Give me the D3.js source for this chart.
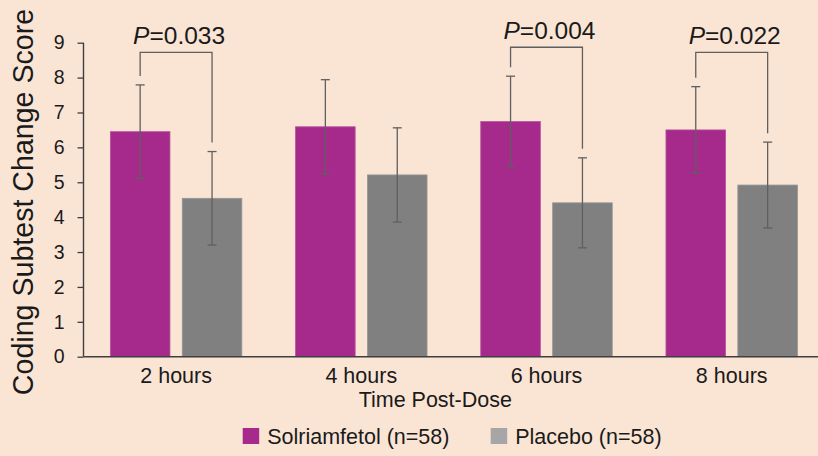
<!DOCTYPE html>
<html>
<head>
<meta charset="utf-8">
<script src="https://cdn.jsdelivr.net/npm/d3@7"></script>
<style>
  html, body { margin: 0; padding: 0; background: #FAE5D5; }
  svg { display: block; font-family: "Liberation Sans", Arial, sans-serif; }
</style>
</head>
<body>
<svg id="chart" width="818" height="456"></svg>
<script>
// Coding subtest change score by time after dose
const categories = ["2 hours", "4 hours", "6 hours", "8 hours"];
const seriesNames = ["Solriamfetol (n=58)", "Placebo (n=58)"];
const solriamfetol = [6.45, 6.59, 6.74, 6.50];
const solriamfetolErr = [1.34, 1.35, 1.30, 1.24];
const placebo = [4.54, 5.21, 4.41, 4.92];
const placeboErr = [1.34, 1.35, 1.29, 1.23];
const yTicks = [0, 1, 2, 3, 4, 5, 6, 7, 8, 9];

// Significance brackets: category index, p-value label, bracket height (score units)
const bracketCats = [0, 2, 3];
const bracketLabels = ["0.033", "0.004", "0.022"];
const bracketTops = [8.72, 8.87, 8.72];

const colors = ["#A62A8C", "#808080"];
const legendColors = ["#A62A8C", "#A6A6A6"];

(function draw() {
  const svg = d3.select("#chart");
  const W = 818;
  const plotLeft = 83.5, plotRight = 824.3, plotTop = 42.7, plotBottom = 356.7;

  const x = d3.scaleBand().domain(categories).range([plotLeft, plotRight])
    .paddingInner(0.29).paddingOuter(0.145);
  const xs = d3.scaleBand().domain(seriesNames).range([0, x.bandwidth()])
    .paddingInner(0.171).paddingOuter(0);
  const y = d3.scaleLinear().domain([0, 9]).range([plotBottom, plotTop]);

  const rows = categories.map((c, i) => ({
    cat: c,
    vals: [
      { s: seriesNames[0], v: solriamfetol[i], e: solriamfetolErr[i] },
      { s: seriesNames[1], v: placebo[i], e: placeboErr[i] }
    ]
  }));

  // bars
  const groups = svg.append("g").selectAll("g").data(rows).join("g")
    .attr("transform", d => `translate(${x(d.cat)},0)`);

  groups.selectAll("rect").data(d => d.vals).join("rect")
    .attr("x", d => xs(d.s))
    .attr("width", xs.bandwidth())
    .attr("y", d => y(d.v))
    .attr("height", d => y(0) - y(d.v))
    .attr("fill", (d, i) => colors[i])
    .attr("stroke", (d, i) => i === 0 ? "#B8529F" : "#969696")
    .attr("stroke-width", 0.8);

  // error bars
  const errColor = "#5F5F5F";
  groups.selectAll("g.err").data(d => d.vals).join("g").attr("class", "err")
    .each(function (d) {
      const g = d3.select(this);
      const cx = xs(d.s) + xs.bandwidth() / 2;
      g.append("line").attr("x1", cx).attr("x2", cx)
        .attr("y1", y(d.v + d.e)).attr("y2", y(d.v - d.e))
        .attr("stroke", errColor).attr("stroke-width", 1.3);
      [d.v + d.e, d.v - d.e].forEach(v => {
        g.append("line").attr("x1", cx - 4.5).attr("x2", cx + 4.5)
          .attr("y1", y(v)).attr("y2", y(v))
          .attr("stroke", errColor).attr("stroke-width", 1.3);
      });
    });

  // axes
  const axisColor = "#3F3F3F";
  const yAxis = svg.append("g").attr("transform", `translate(${plotLeft},0)`)
    .call(d3.axisLeft(y).tickValues(yTicks).tickSize(6).tickPadding(13).tickFormat(d3.format("d")));
  yAxis.select(".domain").attr("d", `M0,${plotTop}V${plotBottom}`).attr("stroke", axisColor).attr("stroke-width", 1.4);
  yAxis.selectAll(".tick line").attr("stroke", axisColor).attr("stroke-width", 1.3);
  yAxis.selectAll(".tick text").attr("font-size", 19.5).attr("fill", "#1A1A1A")
    .attr("font-family", "Liberation Sans, Arial, sans-serif");

  const xAxis = svg.append("g").attr("transform", `translate(0,${plotBottom})`)
    .call(d3.axisBottom(x).tickSize(0).tickPadding(11));
  xAxis.select(".domain").attr("d", `M${plotLeft},0H${W}`).attr("stroke", axisColor).attr("stroke-width", 1.4);
  xAxis.selectAll(".tick text").attr("font-size", 21.5).attr("fill", "#1A1A1A")
    .attr("font-family", "Liberation Sans, Arial, sans-serif");

  // axis titles
  svg.append("text")
    .attr("transform", `translate(33,202) rotate(-90)`)
    .attr("text-anchor", "middle")
    .attr("font-size", 28.6).attr("fill", "#1A1A1A")
    .text("Coding Subtest Change Score");

  svg.append("text")
    .attr("x", 435.3).attr("y", 407.3)
    .attr("text-anchor", "middle")
    .attr("font-size", 21.5).attr("fill", "#1A1A1A")
    .text("Time Post-Dose");

  // significance brackets
  const bracketColor = "#5F5F5F";
  bracketCats.forEach((ci, k) => {
    const r = rows[ci];
    const gx = x(r.cat);
    const xa = gx + xs(seriesNames[0]) + xs.bandwidth() / 2;
    const xb = gx + xs(seriesNames[1]) + xs.bandwidth() / 2;
    const yt = y(bracketTops[k]);
    const ya = y(r.vals[0].v + r.vals[0].e) - 9;
    const yb = y(r.vals[1].v + r.vals[1].e) - 9;
    svg.append("path")
      .attr("d", `M${xa},${ya}V${yt}H${xb}V${yb}`)
      .attr("fill", "none").attr("stroke", bracketColor).attr("stroke-width", 1.3);
    const t = svg.append("text")
      .attr("x", (xa + xb) / 2 + 3).attr("y", yt - 8)
      .attr("text-anchor", "middle")
      .attr("font-size", 24.5).attr("fill", "#1A1A1A");
    t.append("tspan").attr("font-style", "italic").text("P");
    t.append("tspan").text("=" + bracketLabels[k]);
  });

  // legend
  const legendX = [242.7, 490.7];
  const legend = svg.append("g");
  seriesNames.forEach((name, i) => {
    legend.append("rect")
      .attr("x", legendX[i]).attr("y", 428)
      .attr("width", 16.5).attr("height", 16)
      .attr("fill", legendColors[i]);
    legend.append("text")
      .attr("x", legendX[i] + 24.5).attr("y", 444)
      .attr("font-size", 21.5).attr("fill", "#1A1A1A")
      .text(name);
  });
})();
</script>
</body>
</html>
